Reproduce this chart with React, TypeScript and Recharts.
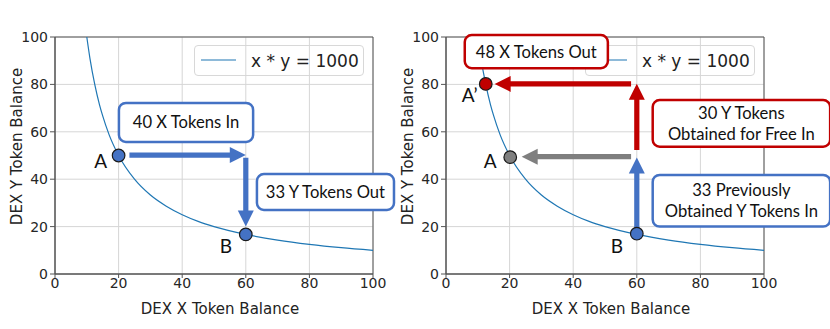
import {
    ComposedChart,
    Line,
    Scatter,
    XAxis,
    YAxis,
    CartesianGrid,
    Legend,
    Label,
    ReferenceLine,
    ReferenceArea,
} from 'recharts'

// x * y = 1000 curve
const curveX = [10, 11, 12.5, 14, 15, 17, 20, 25, 30, 35, 40, 45, 50, 60, 70, 80, 90, 100]
const curveY = [100, 90.9, 80, 71.4, 66.7, 58.8, 50, 40, 33.3, 28.6, 25, 22.2, 20, 16.7, 14.3, 12.5, 11.1, 10]
const axisTicks = [0, 20, 40, 60, 80, 100]

const BLUE = '#4472c4'
const RED = '#c00000'
const GRAY = '#7f7f7f'

// left panel: the swap
const leftPointLabels = ['A', 'B']
const leftPointX = [20, 60]
const leftPointY = [50, 16.7]
const leftPointColors = [BLUE, BLUE]
const leftLabelOffsets = [[-18, 5], [-20, 11]]

const leftArrowFrom = [[23.4, 50.2], [60, 49]]
const leftArrowTo = [[60, 50.2], [60, 20]]
const leftArrowColors = [BLUE, BLUE]

const leftBoxText = [['40 X Tokens In'], ['33 Y Tokens Out']]
const leftBoxX = [[20.1, 62.3], [63.5, 106.6]]
const leftBoxY = [[55.7, 72.2], [27, 42.2]]
const leftBoxColors = [BLUE, BLUE]

// right panel: the reverse swap
const rightPointLabels = ['A’', 'A', 'B']
const rightPointX = [12.5, 20.2, 60]
const rightPointY = [80.2, 49.3, 17]
const rightPointColors = [RED, GRAY, BLUE]
const rightLabelOffsets = [[-16, 11], [-20, 3], [-20, 12]]

const rightArrowFrom = [[60, 17.5], [60, 52.3], [58.2, 80.2], [58.2, 49.5]]
const rightArrowTo = [[60, 49.2], [60, 80.3], [15.3, 80.2], [23.8, 49.5]]
const rightArrowColors = [BLUE, RED, RED, GRAY]

const rightBoxText = [['48 X Tokens Out'], ['30 Y Tokens', 'Obtained for Free In'], ['33 Previously', 'Obtained Y Tokens In']]
const rightBoxX = [[5.9, 50.9], [65, 120.8], [65, 120.8]]
const rightBoxY = [[86.8, 100.8], [53.7, 73.4], [20, 41.8]]
const rightBoxColors = [RED, RED, BLUE]

const curveData = curveX.map((x, i) => ({ x, y: curveY[i] }))

const tickStyle = { fontSize: 14, fill: '#262626', fontFamily: 'DejaVu Sans' }

function arrowShape(color: string) {
    return (props: any) => {
        const { x1, y1, x2, y2 } = props
        const dx = x2 - x1
        const dy = y2 - y1
        const len = Math.hypot(dx, dy) || 1
        const ux = dx / len
        const uy = dy / len
        const px = -uy
        const py = ux
        const head = 16
        const hw = 8
        const sw = 2.6
        const bx = x2 - ux * head
        const by = y2 - uy * head
        const pts = [
            [x1 + px * sw, y1 + py * sw],
            [bx + px * sw, by + py * sw],
            [bx + px * hw, by + py * hw],
            [x2, y2],
            [bx - px * hw, by - py * hw],
            [bx - px * sw, by - py * sw],
            [x1 - px * sw, y1 - py * sw],
        ]
        return <polygon points={pts.map(p => p.join(',')).join(' ')} fill={color} />
    }
}

function boxShape(lines: string[], color: string) {
    return (props: any) => {
        const { x, y, width, height } = props
        const cx = x + width / 2
        const cy = y + height / 2
        return (
            <g>
                <rect x={x} y={y} width={width} height={height} rx={7} ry={7} fill="#fff" stroke={color} strokeWidth={2.5} />
                {lines.map((t, i) => (
                    <text
                        key={i}
                        x={cx}
                        y={cy + (i - (lines.length - 1) / 2) * 21}
                        textAnchor="middle"
                        dominantBaseline="central"
                        fontFamily="Lato"
                        fontSize={16.6}
                        fill="#111"
                    >
                        {t}
                    </text>
                ))}
            </g>
        )
    }
}

function pointShape(offsets: number[][]) {
    return (props: any) => {
        const { cx, cy, payload, index } = props
        const off = offsets[index] || [0, 0]
        return (
            <g>
                <circle cx={cx} cy={cy} r={6.3} fill={payload.color} stroke="#1a1a1a" strokeWidth={1.2} />
                <text x={cx + off[0]} y={cy + off[1]} textAnchor="middle" dominantBaseline="central" fontFamily="Lato" fontSize={19} fill="#111">
                    {payload.label}
                </text>
            </g>
        )
    }
}

const renderLegend = (props: any) => {
    const item = props.payload?.[0]
    return (
        <div
            style={{
                boxSizing: 'border-box',
                width: 170,
                height: 31,
                border: '1px solid #d8d8d8',
                borderRadius: 4,
                background: 'rgba(255,255,255,0.8)',
                display: 'flex',
                alignItems: 'center',
                fontFamily: 'DejaVu Sans',
                fontSize: 17,
                color: '#222',
            }}
        >
            <svg width={56} height={29} style={{ flex: 'none' }}>
                <line x1={6} x2={41} y1={14} y2={14} stroke={item?.color || '#1f77b4'} strokeWidth={1.2} />
            </svg>
            <span>{item?.value}</span>
        </div>
    )
}

type PanelProps = {
    width: number
    plotLeft: number
    legendLeft: number
    labels: string[]
    px: number[]
    py: number[]
    colors: string[]
    labelOffsets: number[][]
    arrowFrom: number[][]
    arrowTo: number[][]
    arrowColors: string[]
    boxText: string[][]
    boxX: number[][]
    boxY: number[][]
    boxColors: string[]
}

function Panel(p: PanelProps) {
    const points = p.px.map((x, i) => ({ x, y: p.py[i], label: p.labels[i], color: p.colors[i] }))
    const plotRight = p.plotLeft + 318
    return (
        <ComposedChart
            width={p.width}
            height={329}
            margin={{ top: 37, right: p.width - plotRight, bottom: 25, left: p.plotLeft - 45 }}
        >
            <CartesianGrid stroke="#d6d6d6" />
            <XAxis
                type="number"
                dataKey="x"
                domain={[0, 100]}
                ticks={axisTicks}
                height={30}
                tick={tickStyle}
                tickSize={4}
                tickMargin={0}
                axisLine={{ stroke: '#555' }}
                tickLine={{ stroke: '#555' }}
            >
                <Label
                    content={(lp: any) => {
                        const vb = lp.viewBox || { x: p.plotLeft, y: 274, width: 318 }
                        return (
                            <text x={vb.x + vb.width / 2 + 6} y={vb.y + 35} textAnchor="middle" dominantBaseline="central" fontFamily="DejaVu Sans" fontSize={15} fill="#222">
                                DEX X Token Balance
                            </text>
                        )
                    }}
                />
            </XAxis>
            <YAxis
                type="number"
                domain={[0, 100]}
                ticks={axisTicks}
                width={45}
                tick={tickStyle}
                tickSize={5}
                axisLine={{ stroke: '#555' }}
                tickLine={{ stroke: '#555' }}
            >
                <Label
                    content={(lp: any) => {
                        const vb = lp.viewBox || { x: p.plotLeft - 45, y: 37, width: 45, height: 237 }
                        const cx = vb.x + vb.width - 38
                        const cy = vb.y + vb.height / 2 - 9
                        return (
                            <text x={cx} y={cy} transform={`rotate(-90 ${cx} ${cy})`} textAnchor="middle" dominantBaseline="central" fontFamily="DejaVu Sans" fontSize={15} fill="#222">
                                DEX Y Token Balance
                            </text>
                        )
                    }}
                />
            </YAxis>
            <ReferenceArea x1={0} x2={100} y1={0} y2={100} fill="none" fillOpacity={0} stroke="#555" strokeWidth={1} />
            <Legend
                layout="horizontal"
                verticalAlign="middle"
                align="center"
                wrapperStyle={{ left: p.legendLeft, top: 45, width: 170, height: 31, zIndex: -1 }}
                content={renderLegend}
            />
            <Line
                data={curveData}
                dataKey="y"
                name="x * y = 1000"
                type="monotone"
                stroke="#1f77b4"
                strokeWidth={1.2}
                dot={false}
                activeDot={false}
                isAnimationActive={false}
            />
            {p.arrowFrom.map((from, i) => (
                <ReferenceLine
                    key={'arrow' + i}
                    segment={[{ x: from[0], y: from[1] }, { x: p.arrowTo[i][0], y: p.arrowTo[i][1] }]}
                    ifOverflow="visible"
                    shape={arrowShape(p.arrowColors[i])}
                    zIndex={1500}
                />
            ))}
            <Scatter
                data={points}
                dataKey="y"
                legendType="none"
                shape={pointShape(p.labelOffsets)}
                isAnimationActive={false}
                zIndex={1600}
            />
            {p.boxText.map((lines, i) => (
                <ReferenceArea
                    key={'box' + i}
                    x1={p.boxX[i][0]}
                    x2={p.boxX[i][1]}
                    y1={p.boxY[i][0]}
                    y2={p.boxY[i][1]}
                    ifOverflow="visible"
                    shape={boxShape(lines, p.boxColors[i])}
                    zIndex={1700}
                />
            ))}
        </ComposedChart>
    )
}

export default function App() {
    return (
        <div style={{ position: 'absolute', left: 0, top: 0, width: 830, height: 329, background: 'transparent' }}>
            <div style={{ position: 'absolute', left: 0, top: 0 }}>
                <Panel
                    width={415}
                    plotLeft={55}
                    legendLeft={194}
                    labels={leftPointLabels}
                    px={leftPointX}
                    py={leftPointY}
                    colors={leftPointColors}
                    labelOffsets={leftLabelOffsets}
                    arrowFrom={leftArrowFrom}
                    arrowTo={leftArrowTo}
                    arrowColors={leftArrowColors}
                    boxText={leftBoxText}
                    boxX={leftBoxX}
                    boxY={leftBoxY}
                    boxColors={leftBoxColors}
                />
            </div>
            <div style={{ position: 'absolute', left: 392, top: 0 }}>
                <Panel
                    width={438}
                    plotLeft={54}
                    legendLeft={193}
                    labels={rightPointLabels}
                    px={rightPointX}
                    py={rightPointY}
                    colors={rightPointColors}
                    labelOffsets={rightLabelOffsets}
                    arrowFrom={rightArrowFrom}
                    arrowTo={rightArrowTo}
                    arrowColors={rightArrowColors}
                    boxText={rightBoxText}
                    boxX={rightBoxX}
                    boxY={rightBoxY}
                    boxColors={rightBoxColors}
                />
            </div>
        </div>
    )
}
